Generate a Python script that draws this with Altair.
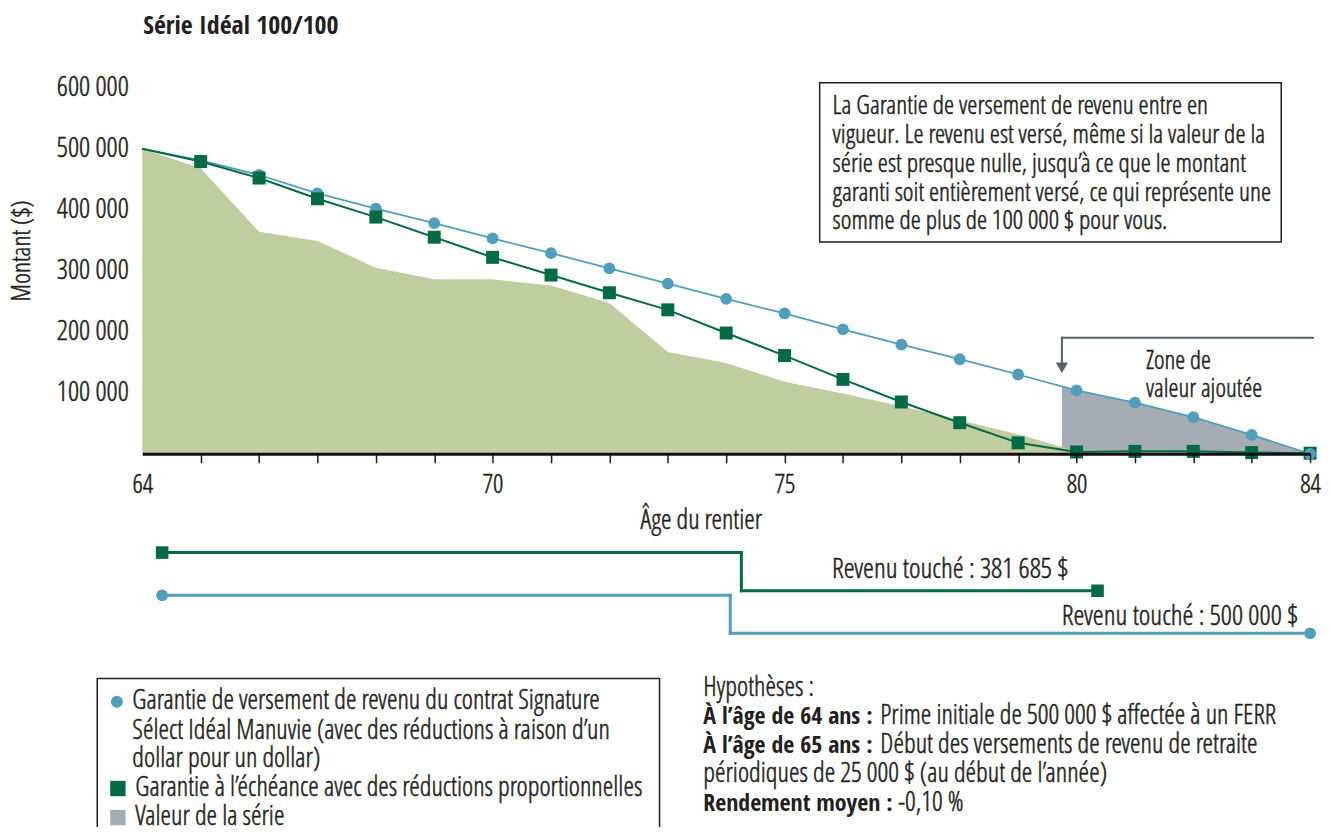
import altair as alt
import pandas as pd

LIGHT = "'Open Sans Condensed Light', 'Liberation Sans Narrow', sans-serif"
BOLD = "'Open Sans Condensed', 'Liberation Sans Narrow', sans-serif"
INK = "#231f20"
BLUE = "#4f9fbc"
DKGREEN = "#006b45"
LTGREEN = "#bfcd9f"
GRAY = "#a6acb4"
ARROW = "#555f69"

# ---------------- data ----------------
ages = list(range(64, 85))
series_value = [500000, 468000, 364000, 349000, 305000, 286000, 286000, 276000,
                247000, 167000, 149000, 118000, 99000, 78000, 55000, 32000,
                4000, 2000, 1000, 0, 0]
income_guarantee = [500000, 481000, 457000, 427000, 402000, 378000, 353000, 329000,
                    304000, 279000, 254000, 230000, 204000, 179000, 155000, 130000,
                    104000, 84000, 60000, 31000, 0]
maturity_guarantee = [500000, 479000, 452000, 418000, 388000, 355000, 322000, 293000,
                      264000, 236000, 198000, 161000, 122000, 85000, 51000, 18000,
                      3000, 4000, 4000, 2000, 1000]
zone_ages = [79.75, 80, 81, 82, 83, 84]
zone_top = [111000, 104000, 84000, 60000, 31000, 0]

x_labels = [64, 70, 75, 80, 84]
y_ticks = [100000, 200000, 300000, 400000, 500000, 600000]

timeline_green = [64.34, 74.26, 80.36]
timeline_blue = [64.34, 74.07, 84.0]
income_labels = ["Revenu touché : 381 685 $", "Revenu touché : 500 000 $"]

title_text = "Série Idéal 100/100"
y_title = "Montant ($)"
x_title = "Âge du rentier"
box_lines = [
    "La Garantie de versement de revenu entre en",
    "vigueur. Le revenu est versé, même si la valeur de la",
    "série est presque nulle, jusqu’à ce que le montant",
    "garanti soit entièrement versé, ce qui représente une",
    "somme de plus de 100 000 $ pour vous.",
]
zone_lines = ["Zone de", "valeur ajoutée"]
legend_lines = [
    "Garantie de versement de revenu du contrat Signature",
    "Sélect Idéal Manuvie (avec des réductions à raison d’un",
    "dollar pour un dollar)",
    "Garantie à l’échéance avec des réductions proportionnelles",
    "Valeur de la série",
]
hyp_title = "Hypothèses :"
hyp_bold = ["À l’âge de 64 ans :", "À l’âge de 65 ans :", "Rendement moyen :"]
hyp_regular = ["Prime initiale de 500 000 $ affectée à un FERR",
               "Début des versements de revenu de retraite",
               "périodiques de 25 000 $ (au début de l’année)",
               "-0,10 %"]

X = alt.X(
    "age:Q",
    scale=alt.Scale(domain=[64, 84], nice=False, zero=False),
    axis=alt.Axis(
        values=ages,
        labelExpr="indexof(%s, datum.value) >= 0 ? datum.label : ''" % str(x_labels),
        labelFlush=False, labelOverlap=False,
        tickSize=9, tickWidth=1.5, tickColor="#1a1a1a",
        tickOpacity={"condition": {"test": "datum.value == 64", "value": 0}, "value": 1},
        domainColor="#111111", domainWidth=3,
        labelFont=LIGHT, labelFontSize=26, labelColor=INK, labelPadding=9,
        grid=False, title=None, zindex=1,
    ),
)
Y = alt.Y(
    "value:Q",
    scale=alt.Scale(domain=[0, 600000], nice=False, zero=True),
    axis=alt.Axis(
        values=y_ticks,
        labelExpr="format(datum.value / 1000, 'd') + ' 000'",
        ticks=False, domain=False, grid=False,
        labelFont=LIGHT, labelFontSize=28, labelColor=INK, labelPadding=14,
        title=None,
    ),
)


def series_df(vals, xs=ages):
    return pd.DataFrame({"age": xs, "value": vals})


df_area = series_df(series_value)
df_inc = series_df(income_guarantee)
df_mat = series_df(maturity_guarantee)
df_zone = series_df(zone_top, zone_ages)

zone = alt.Chart(df_zone).mark_area(color=GRAY, opacity=1).encode(x=X, y=Y)
area = alt.Chart(df_area).mark_area(color=LTGREEN, opacity=1).encode(x=X, y=Y)
inc_line = alt.Chart(df_inc).mark_line(color=BLUE, strokeWidth=1.8).encode(x=X, y=Y)
mat_line = alt.Chart(df_mat).mark_line(color=DKGREEN, strokeWidth=2).encode(x=X, y=Y)
inc_pts = alt.Chart(df_inc).transform_filter("datum.age >= 65").mark_point(
    shape="circle", filled=True, size=140, color=BLUE, opacity=1).encode(x=X, y=Y)
mat_pts = alt.Chart(df_mat).transform_filter("datum.age >= 65").mark_point(
    shape="square", filled=True, size=170, color=DKGREEN, opacity=1).encode(x=X, y=Y)
inc_last = alt.Chart(df_inc).transform_filter("datum.age == 84").mark_point(
    shape="circle", filled=True, size=140, color=BLUE, opacity=1).encode(x=X, y=Y)


def text(s, x, y, size=24, bold=False, align="left", baseline="alphabetic", angle=0):
    props = dict(align=align, baseline=baseline, fontSize=size, color=INK)
    if bold:
        props.update(font=BOLD, fontWeight="bold")
    else:
        props.update(font=LIGHT, fontWeight="normal", stroke=INK, strokeWidth=0.5)
    if angle:
        props["angle"] = angle
    return alt.Chart(pd.DataFrame({"t": [s]})).mark_text(**props).encode(
        x=alt.value(x), y=alt.value(y), text="t:N")


def hseg(a, b, y, color, width=3):
    return alt.Chart(pd.DataFrame({"age": [a], "age2": [b]})).mark_rule(
        color=color, strokeWidth=width, strokeCap="square").encode(
        x=X, x2="age2:Q", y=alt.value(y))


def vseg(a, y1, y2, color, width=3):
    return alt.Chart(pd.DataFrame({"age": [a]})).mark_rule(
        color=color, strokeWidth=width, strokeCap="square").encode(
        x=X, y=alt.value(y1), y2=alt.value(y2))


def marker(a, y, shape, color, size):
    return alt.Chart(pd.DataFrame({"age": [a]})).mark_point(
        shape=shape, filled=True, size=size, color=color, opacity=1).encode(
        x=X, y=alt.value(y))


def box(x1, y1, x2, y2):
    return alt.Chart(pd.DataFrame({"k": [0]})).mark_rect(
        fill="white", stroke="#222222", strokeWidth=1.5).encode(
        x=alt.value(x1), x2=alt.value(x2), y=alt.value(y1), y2=alt.value(y2))


def symbol(x, y, shape, color, size):
    return alt.Chart(pd.DataFrame({"k": [0]})).mark_point(
        shape=shape, filled=True, size=size, color=color, opacity=1).encode(
        x=alt.value(x), y=alt.value(y))


layers = [zone, area, inc_line, mat_line, inc_pts, mat_pts, inc_last]

# arrow to the added-value zone
layers += [
    hseg(zone_ages[0], 84.05, 251.3, ARROW, 2),
    vseg(zone_ages[0], 251.3, 276, ARROW, 2),
    marker(zone_ages[0], 281.5, "triangle-down", ARROW, 150),
    text(zone_lines[0], 1009, 282.3, 25.5),
    text(zone_lines[1], 1009, 311.3, 25.5),
]

# annotation box
layers.append(box(681, -5, 1145, 155))
for i, line in enumerate(box_lines):
    layers.append(text(line, 694, 26.7 + 28.9 * i, 26))

# titles
layers.append(text(title_text, 1, -54.3, 26, bold=True))
layers.append(text(y_title, -121, 164, 26, baseline="middle", align="center", angle=270))
layers.append(text(x_title, 562, 444, 27, align="center"))

# income timelines
g_top, g_bot = 467.3, 505.7
b_top, b_bot = 510.3, 548.5
layers += [
    hseg(timeline_green[0], timeline_green[1], g_top, DKGREEN),
    vseg(timeline_green[1], g_top, g_bot, DKGREEN),
    hseg(timeline_green[1], timeline_green[2], g_bot, DKGREEN),
    hseg(timeline_blue[0], timeline_blue[1], b_top, BLUE),
    vseg(timeline_blue[1], b_top, b_bot, BLUE),
    hseg(timeline_blue[1], timeline_blue[2], b_bot, BLUE),
    marker(timeline_green[0], g_top, "square", DKGREEN, 160),
    marker(timeline_green[2], g_bot, "square", DKGREEN, 160),
    marker(timeline_blue[0], b_top, "circle", BLUE, 140),
    marker(timeline_blue[2], b_bot, "circle", BLUE, 140),
    text(income_labels[0], 931, 493, 28, align="right"),
    text(income_labels[1], 1162, 540.5, 28, align="right"),
]

# legend box
layers.append(box(-45.3, 594, 520, 770))
layers += [
    symbol(-25.5, 617.3, "circle", BLUE, 143),
    symbol(-24.5, 704.5, "square", DKGREEN, 240),
    symbol(-24.5, 733.7, "square", GRAY, 240),
]
leg_y = [624.7, 654.7, 683.3, 712.3, 740.7]
leg_x = [-10, -10, -10, -7, -7]
for s, lx, ly in zip(legend_lines, leg_x, leg_y):
    layers.append(text(s, lx, ly, 27))

# hypotheses
hx = 564
layers += [
    text(hyp_title, hx, 611, 27),
    text(hyp_bold[0], hx, 640, 24, bold=True),
    text(hyp_regular[0], 742, 640, 27),
    text(hyp_bold[1], hx, 669, 24, bold=True),
    text(hyp_regular[1], 742, 669, 27),
    text(hyp_regular[2], hx, 698, 27),
    text(hyp_bold[2], hx, 727, 24, bold=True),
    text(hyp_regular[3], 760, 727, 27),
]

chart = alt.layer(*layers).properties(
    width=1174, height=368,
    padding={"left": 135, "top": 78, "right": 13, "bottom": 373},
    autosize=alt.AutoSizeParams(type="none"),
).configure(
    style={"guide-label": {"stroke": INK, "strokeWidth": 0.5}}
).configure_view(stroke=None)

chart.save("out.html", embed_options={"renderer": "svg", "actions": False})
